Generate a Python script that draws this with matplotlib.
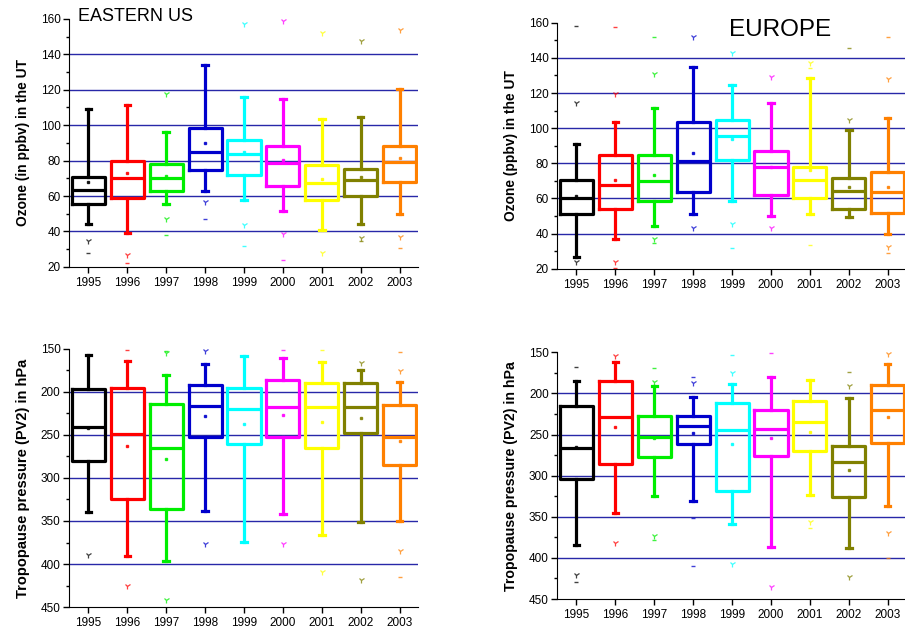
import matplotlib
matplotlib.use('Agg')
import matplotlib.pyplot as plt
from matplotlib.ticker import MultipleLocator

years = ['1995', '1996', '1997', '1998', '1999', '2000', '2001', '2002', '2003']
colors = ['#000000', '#ff0000', '#00ee00', '#0000cc', '#00ffff',
          '#ff00ff', '#ffff00', '#808000', '#ff8000']

# Eastern US ozone (ppbv)
us_o3_wlo = [44.5, 39, 55.5, 62.8, 57.7, 51.7, 40.8, 44, 50]
us_o3_q1 = [55.8, 59, 63, 74.7, 72, 65.7, 57.7, 60.2, 68]
us_o3_med = [63.4, 70.4, 70.4, 85, 83.6, 78.5, 67.5, 69, 79.4]
us_o3_q3 = [71, 80, 78, 98.7, 91.7, 88.5, 77.5, 75.3, 88.5]
us_o3_whi = [109, 111.5, 96, 134, 116, 115, 103.6, 104.5, 120.4]
us_o3_mean = [68, 73, 71.5, 90, 84.7, 80.4, 69.6, 71, 81.7]
us_o3_v = [[34.7], [26.6], [47, 117.5], [56.8], [43.6, 157.4], [38.3, 158.7],
           [28, 152], [36.4, 147.4], [37, 154]]
us_o3_dash = [[28], [22], [38], [47], [31.7], [24], [], [34.5], [30.8]]

# Europe ozone (ppbv)
eu_o3_wlo = [26.8, 37, 44.6, 51.4, 58.4, 50.3, 51.4, 49.5, 39.9]
eu_o3_q1 = [51.4, 54, 58.4, 63.5, 82, 62.2, 60, 54.3, 51.8]
eu_o3_med = [60.3, 67.5, 69.8, 81.1, 95.7, 77.7, 70.3, 64.5, 63.5]
eu_o3_q3 = [70.3, 84.9, 84.9, 103.3, 104.8, 87.2, 77.9, 71.7, 74.9]
eu_o3_whi = [91, 103.4, 111.4, 135, 124.4, 114.2, 128.4, 98.7, 105.7]
eu_o3_mean = [61.2, 70.3, 73.2, 85.8, 93.8, 78, 76, 66.5, 66.5]
eu_o3_v = [[23.8, 114.6], [24, 119.3], [37, 131], [43.3, 152], [45.5, 142.6],
           [43.3, 129.4], [137], [104.4], [32.5, 128]]
eu_o3_dash = [[158], [20.6, 157.7], [34.8, 151.7], [], [32], [], [33.3, 134],
              [145.8], [29, 152]]

# Eastern US tropopause pressure (hPa)
us_tp_wlo = [156.5, 163.5, 180.8, 168, 158.5, 160.4, 165.4, 173.9, 188]
us_tp_q1 = [197, 195, 214.3, 191.6, 195, 185.8, 190, 190, 215.5]
us_tp_med = [240.5, 249, 265, 216.3, 219.3, 217.4, 218, 218, 252.8]
us_tp_q3 = [279.8, 324, 336.4, 252.8, 260.6, 252.8, 265.6, 247.8, 284.4]
us_tp_whi = [339.5, 390.4, 396, 338.4, 374, 341.4, 365.7, 351, 350]
us_tp_mean = [242, 262.5, 278, 227.8, 236.7, 227, 235.5, 229.7, 256.7]
us_tp_v = [[389.6], [426], [154.6, 441.6], [152, 377], [], [377.3], [409.6],
           [166, 418.5], [175.8, 385]]
us_tp_dash = [[], [150.8], [152], [], [], [150.8], [150.8], [], [153.9, 414.6]]

# Europe tropopause pressure (hPa)
eu_tp_wlo = [184.5, 161.4, 191, 204, 189, 179.6, 183.6, 206, 164.2]
eu_tp_q1 = [215.3, 184.9, 227.4, 227, 211.2, 220, 209.2, 264, 189.7]
eu_tp_med = [266, 228.2, 252.6, 239.6, 244.4, 243.6, 234.3, 283, 220]
eu_tp_q3 = [304.4, 286, 277.7, 261.5, 318.2, 276, 269.6, 325.5, 260.7]
eu_tp_whi = [384.3, 345, 324.7, 330.4, 359.2, 386.3, 323.5, 388.3, 336.9]
eu_tp_mean = [265, 240.4, 254, 247.7, 261.9, 254.6, 246.5, 293, 228.2]
eu_tp_v = [[420.8], [155, 382.3], [185.7, 373.3], [187], [175.5, 407.8], [435],
           [356], [190.5, 422.8], [152.4, 369.3]]
eu_tp_dash = [[168, 429], [], [169.5, 378], [179.6, 352, 409.4], [153], [150.4],
              [364], [173.5], [400.5]]

TICK_FONT = ['Liberation Sans', 'DejaVu Sans']
LABEL_FONT = ['Liberation Sans Narrow', 'Liberation Sans', 'DejaVu Sans']
GRID = '#2828a8'


def draw_panel(ax, wlo, q1, med, q3, whi, mean, vpts, dpts,
               ylim, major, minor, grid_vals, ylabel, lsize):
    pos = list(range(1, len(years) + 1))
    stats = []
    for i in range(len(years)):
        stats.append({'whislo': wlo[i], 'q1': q1[i], 'med': med[i],
                      'q3': q3[i], 'whishi': whi[i], 'mean': mean[i],
                      'fliers': []})

    for g in grid_vals:
        ax.axhline(g, color=GRID, lw=1.0, zorder=0)

    art = ax.bxp(stats, positions=pos, widths=0.85, capwidths=0.14,
                 showmeans=True, showfliers=False)
    for i, c in enumerate(colors):
        art['boxes'][i].set(color=c, lw=2.3)
        art['medians'][i].set(color=c, lw=2.3)
        for w in art['whiskers'][2 * i:2 * i + 2]:
            w.set(color=c, lw=2.3)
        for cp in art['caps'][2 * i:2 * i + 2]:
            cp.set(color=c, lw=2.3)
        art['means'][i].set(marker='s', markersize=1.6, markerfacecolor=c,
                            markeredgecolor=c, alpha=0.85)
        if vpts[i]:
            ax.plot([pos[i]] * len(vpts[i]), vpts[i], linestyle='none',
                    marker='1', markersize=4.5, mew=0.9, color=c, alpha=0.75)
        if dpts[i]:
            ax.plot([pos[i]] * len(dpts[i]), dpts[i], linestyle='none',
                    marker='_', markersize=3, mew=1.0, color=c, alpha=0.75)

    ax.set_xlim(0.5, 9.47)
    ax.set_ylim(*ylim)
    ax.set_xticks(pos)
    ax.set_xticklabels(years, fontsize=8.5, family=TICK_FONT)
    ax.yaxis.set_major_locator(MultipleLocator(major))
    ax.yaxis.set_minor_locator(MultipleLocator(minor))
    for lab in ax.get_yticklabels():
        lab.set_fontsize(8.5)
        lab.set_family(TICK_FONT)
    ax.tick_params(axis='both', which='major', length=4, width=1, pad=2)
    ax.tick_params(axis='x', which='major', pad=3.5)
    ax.tick_params(axis='y', which='minor', length=2.5, width=1)
    ax.spines['top'].set_visible(False)
    ax.spines['right'].set_visible(False)
    ax.set_ylabel(ylabel, fontsize=lsize, fontweight='bold', family=LABEL_FONT,
                  labelpad=8)
    ax.set_facecolor('none')


fig = plt.figure(figsize=(9.05, 6.31), dpi=100)

ax1 = fig.add_axes([0.0762, 0.577, 0.3856, 0.393])
draw_panel(ax1, us_o3_wlo, us_o3_q1, us_o3_med, us_o3_q3, us_o3_whi,
           us_o3_mean, us_o3_v, us_o3_dash, (20, 160), 20, 10,
           [40, 60, 80, 100, 120, 140], 'Ozone (in ppbv) in the UT', 9.9)
ax1.text(0.026, 1.008, 'EASTERN US', transform=ax1.transAxes, fontsize=13,
         family=TICK_FONT, va='center', ha='left')

ax2 = fig.add_axes([0.6155, 0.574, 0.3856, 0.390])
draw_panel(ax2, eu_o3_wlo, eu_o3_q1, eu_o3_med, eu_o3_q3, eu_o3_whi,
           eu_o3_mean, eu_o3_v, eu_o3_dash, (20, 160), 20, 10,
           [40, 60, 80, 100, 120, 140], 'Ozone (ppbv) in the UT', 9.9)
ax2.text(0.64, 0.97, 'EUROPE', transform=ax2.transAxes, fontsize=17.5,
         family=TICK_FONT, va='center', ha='center')

ax3 = fig.add_axes([0.0762, 0.038, 0.3856, 0.409])
draw_panel(ax3, us_tp_wlo, us_tp_q1, us_tp_med, us_tp_q3, us_tp_whi,
           us_tp_mean, us_tp_v, us_tp_dash, (450, 150), 50, 25,
           [200, 250, 300, 350, 400], 'Tropopause pressure (PV2) in hPa', 10.5)

ax4 = fig.add_axes([0.6155, 0.0507, 0.3856, 0.391])
draw_panel(ax4, eu_tp_wlo, eu_tp_q1, eu_tp_med, eu_tp_q3, eu_tp_whi,
           eu_tp_mean, eu_tp_v, eu_tp_dash, (450, 150), 50, 25,
           [200, 250, 300, 350, 400], 'Tropopause pressure (PV2) in hPa', 10.2)

fig.savefig('out.png', dpi=100)
